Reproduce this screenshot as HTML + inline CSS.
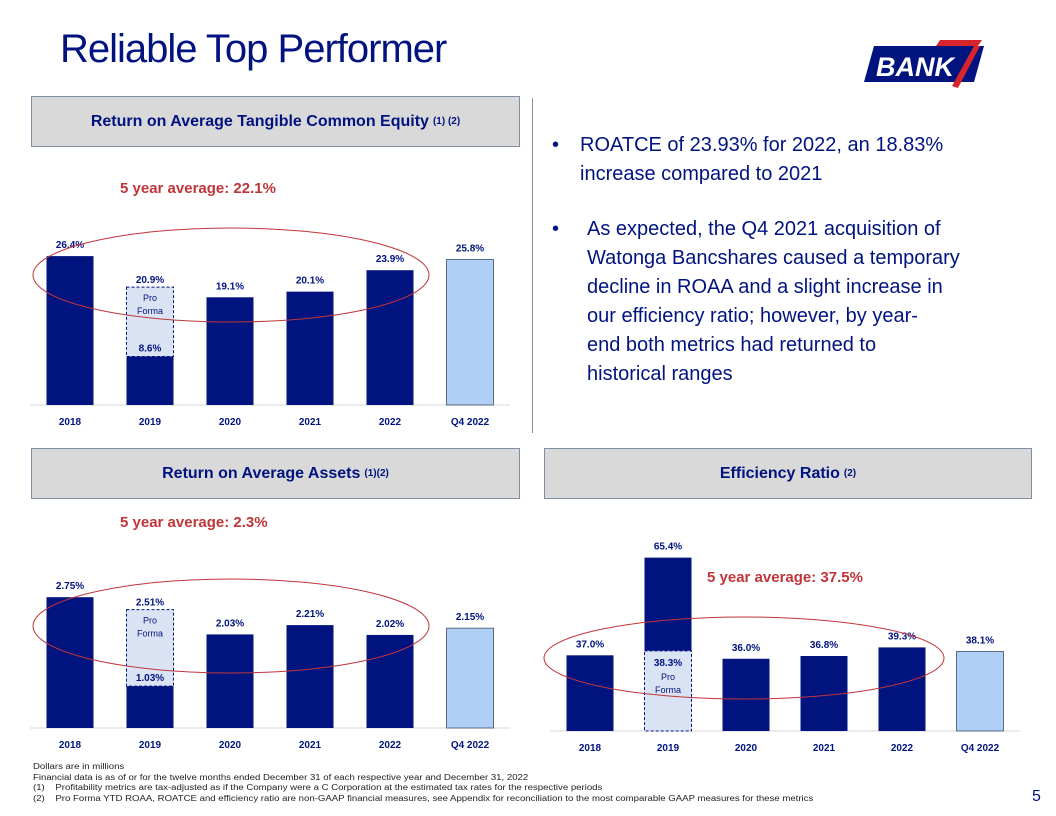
<!DOCTYPE html>
<html><head><meta charset="utf-8"><style>
body{margin:0;width:1056px;height:816px;background:#fff;font-family:"Liberation Sans",sans-serif;position:relative;overflow:hidden}
.abs{position:absolute}
.hdr{position:absolute;background:#d9d9d9;border:1px solid #7f8fa6;color:#00137f;font-weight:bold;font-size:16px;display:flex;align-items:center;justify-content:center}
.hdr sup{font-size:10px;margin-left:4px}
.avg{position:absolute;color:#c0353a;font-weight:bold;font-size:15px}
.bul{position:absolute;color:#00137f;font-size:20px;line-height:29px;white-space:nowrap}
.fn{position:absolute;left:33px;font-size:8px;color:#222;line-height:10.5px;white-space:nowrap;transform:scaleX(1.2);transform-origin:0 0}
</style></head><body>
<div class="abs" style="left:60px;top:27px;font-size:40px;color:#00137f;letter-spacing:-1px">Reliable Top Performer</div>
<svg class="abs" style="left:862px;top:36px" width="125" height="52">
<polygon points="12,10 122,10 112,46 2,46" fill="#00137f"/>
<polygon points="78,4 120,4 116,10 74,10" fill="#d7262b"/>
<polygon points="112,10 118,10 96,52 90,50" fill="#d7262b"/>
<text x="14" y="40" font-family="Liberation Sans" font-weight="bold" font-style="italic" font-size="27" fill="#fff">BANK</text>
</svg>
<div class="abs" style="left:532px;top:98px;width:1px;height:335px;background:#7f8fa6"></div>
<div class="hdr" style="left:31px;top:96px;width:487px;height:49px">Return on Average Tangible Common Equity<sup>(1) (2)</sup></div>
<div class="hdr" style="left:31px;top:448px;width:487px;height:49px">Return on Average Assets<sup>(1)(2)</sup></div>
<div class="hdr" style="left:544px;top:448px;width:486px;height:49px">Efficiency Ratio<sup>(2)</sup></div>
<div class="avg" style="left:120px;top:180px">5 year average: 22.1%</div>
<div class="avg" style="left:120px;top:514px">5 year average: 2.3%</div>
<div class="avg" style="left:707px;top:569px">5 year average: 37.5%</div>
<div class="bul" style="left:552px;top:131px">•</div>
<div class="bul" style="left:580px;top:131px">ROATCE of 23.93% for 2022, an 18.83%<br>increase compared to 2021</div>
<div class="bul" style="left:552px;top:215px">•</div>
<div class="bul" style="left:587px;top:215px">As expected, the Q4 2021 acquisition of<br>Watonga Bancshares caused a temporary<br>decline in ROAA and a slight increase in<br>our efficiency ratio; however, by year-<br>end both metrics had returned to<br>historical ranges</div>
<svg class="abs" id="ch" style="left:0;top:0" width="1056" height="816"></svg>
<div class="fn" style="top:762px">Dollars are in millions<br>Financial data is as of or for the twelve months ended December 31 of each respective year and December 31, 2022<br>(1)&nbsp;&nbsp;&nbsp;&nbsp;Profitability metrics are tax-adjusted as if the Company were a C Corporation at the estimated tax rates for the respective periods<br>(2)&nbsp;&nbsp;&nbsp;&nbsp;Pro Forma YTD ROAA, ROATCE and efficiency ratio are non-GAAP financial measures, see Appendix for reconciliation to the most comparable GAAP measures for these metrics</div>
<div class="abs" style="left:1032px;top:788px;font-size:16px;color:#00137f">5</div>
<script>
const categories=["2018","2019","2020","2021","2022","Q4 2022"];
const roatceValues=[26.4,8.6,19.1,20.1,23.9,25.8];
const roatceProForma=20.9;
const roatceLabels=["26.4%","8.6%","19.1%","20.1%","23.9%","25.8%"];
const roaaValues=[2.75,1.03,2.03,2.21,2.02,2.15];
const roaaProForma=2.51;
const roaaLabels=["2.75%","1.03%","2.03%","2.21%","2.02%","2.15%"];
const effValues=[37.0,65.4,36.0,36.8,39.3,38.1];
const effProForma=38.3;
const effLabels=["37.0%","65.4%","36.0%","36.8%","39.3%","38.1%"];
const NS="http://www.w3.org/2000/svg";
const svg=document.getElementById('ch');
function mk(t,a,txt){const e=document.createElementNS(NS,t);for(const k in a)e.setAttribute(k,a[k]);if(txt!=null)e.textContent=txt;svg.appendChild(e);return e;}
function chart(o){
 const y=v=>o.base-(v-o.min)*o.k;
 const x=i=>o.x0+i*o.dx;
 const ax=mk('line',{x1:o.x0-40,x2:x(5)+40,y1:o.base,y2:o.base,stroke:'#d9d9d9'});
 
 
 o.vals.forEach((v,i)=>{
  const w=47;
  if(i===1&&o.stackPF){
   const pt=y(o.pf);
   const b=mk('rect',{x:x(i)-w/2,y:y(v),width:w,height:pt-y(v),fill:'#00137f'});
   
   
   const p=mk('rect',{x:x(i)-w/2,y:pt,width:w,height:o.base-pt,fill:'#dae3f3',stroke:'#00137f','stroke-dasharray':'3,2'});
   
   
   mk('text',{x:x(i),y:y(v)-8,'text-anchor':'middle','font-size':10,'font-weight':'bold',fill:'#00137f'},o.labels[i]);
   mk('text',{x:x(i),y:pt+15,'text-anchor':'middle','font-size':10,'font-weight':'bold',fill:'#00137f'},o.pf.toFixed(1)+'%');
   mk('text',{x:x(i),y:pt+29,'text-anchor':'middle','font-size':9,fill:'#00137f'},'Pro');
   mk('text',{x:x(i),y:pt+42,'text-anchor':'middle','font-size':9,fill:'#00137f'},'Forma');
  } else if(i===1){
   const pt=y(o.pf);
   const p=mk('rect',{x:x(i)-w/2,y:pt,width:w,height:y(v)-pt,fill:'#dae3f3',stroke:'#00137f','stroke-dasharray':'3,2'});
   
   
   const b=mk('rect',{x:x(i)-w/2,y:y(v),width:w,height:o.base-y(v),fill:'#00137f'});
   
   
   mk('text',{x:x(i),y:pt-4,'text-anchor':'middle','font-size':10,'font-weight':'bold',fill:'#00137f'},o.pfLabel);
   mk('text',{x:x(i),y:pt+14,'text-anchor':'middle','font-size':9,fill:'#00137f'},'Pro');
   mk('text',{x:x(i),y:pt+27,'text-anchor':'middle','font-size':9,fill:'#00137f'},'Forma');
   mk('text',{x:x(i),y:y(v)-5,'text-anchor':'middle','font-size':10,'font-weight':'bold',fill:'#00137f'},o.labels[i]);
  } else {
   const q=i===5;
   const b=mk('rect',{x:x(i)-w/2,y:y(v),width:w,height:o.base-y(v),fill:q?'#afcff7':'#00137f',stroke:q?'#5a6a80':'none'});
   
   
   mk('text',{x:x(i),y:y(v)-8,'text-anchor':'middle','font-size':10,'font-weight':'bold',fill:'#00137f'},o.labels[i]);
  }
  const t=mk('text',{x:x(i),y:o.base+20,'text-anchor':'middle','font-size':10,'font-weight':'bold',fill:'#00137f'},categories[i]);
  
  
 });
 const el=mk('ellipse',{cx:o.ell[0],cy:o.ell[1],rx:o.ell[2],ry:o.ell[3],fill:'none',stroke:'#c0353a','stroke-width':1});
 
 
}
chart({name:'roatce',vals:roatceValues,labels:roatceLabels,pf:roatceProForma,pfLabel:'20.9%',base:405,min:0,k:5.64,x0:70,dx:80,ell:[231,275,198,47]});
chart({name:'roaa',vals:roaaValues,labels:roaaLabels,pf:roaaProForma,pfLabel:'2.51%',base:728,min:0.22,k:51.7,x0:70,dx:80,ell:[231,626,198,47]});
chart({name:'eff',vals:effValues,labels:effLabels,pf:effProForma,stackPF:true,base:731,min:15,k:3.44,x0:590,dx:78,ell:[744,658,200,41]});
</script>
</body></html>
